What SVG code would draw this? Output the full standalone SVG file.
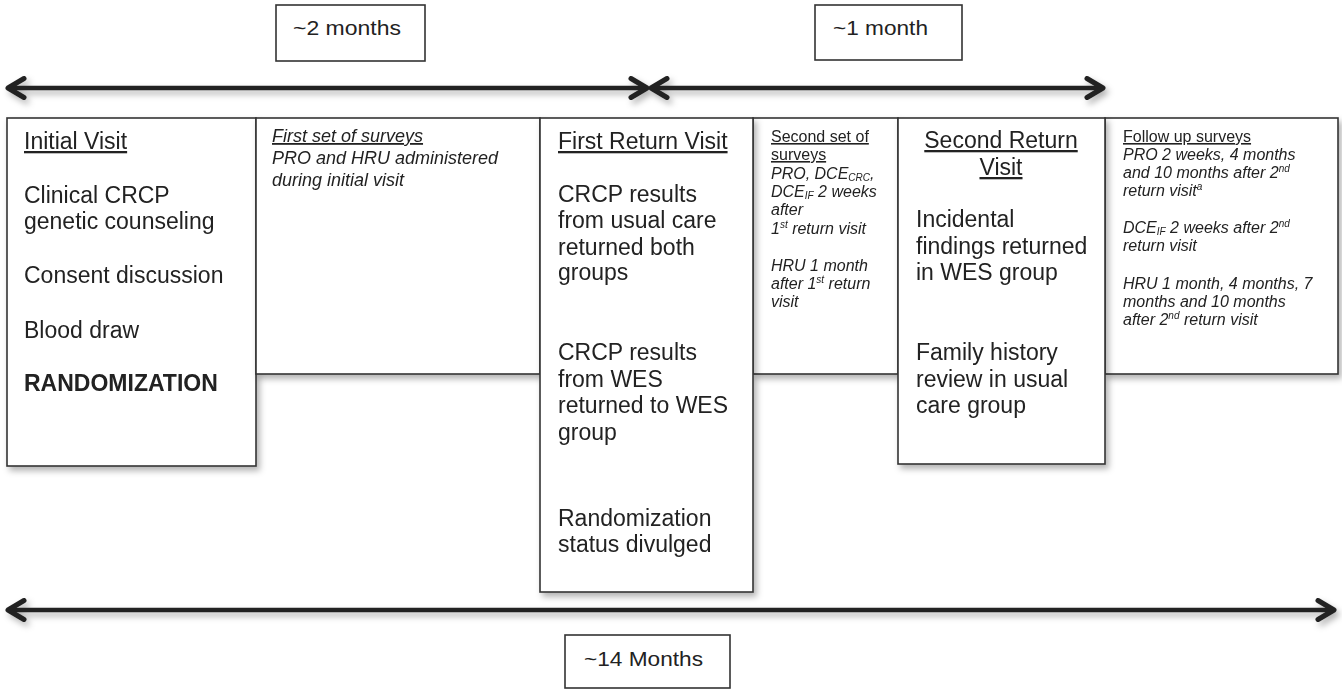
<svg xmlns="http://www.w3.org/2000/svg" width="1342" height="690" viewBox="0 0 1342 690">
<defs>
<style>
text{font-family:"Liberation Sans",Arial,sans-serif;fill:#222}
.big{font-size:23px}
.med{font-size:18px;font-style:italic}
.sm{font-size:16px;font-style:italic}
.u{text-decoration:underline}
.n{font-style:normal}
.box{fill:#fff;stroke:#333;stroke-width:1.6}
.arr{stroke:#222;stroke-width:4.5;fill:none}
.sub{font-size:10px}
.sup{font-size:10px}
</style>
<filter id="sh" filterUnits="userSpaceOnUse" x="0" y="0" width="1342" height="690">
<feDropShadow dx="3" dy="4" stdDeviation="3" flood-color="#000" flood-opacity="0.3"/>
</filter>
<marker id="ah" viewBox="0 0 22 24" refX="19" refY="12" markerWidth="22" markerHeight="24" markerUnits="userSpaceOnUse" orient="auto-start-reverse">
<path d="M3,2.5 L19,12 L3,21.5" fill="none" stroke="#222" stroke-width="5" stroke-linecap="round" stroke-linejoin="round"/>
</marker>
</defs>
<rect width="1342" height="690" fill="#fff"/>

<g id="connectors" filter="url(#sh)">
<line class="arr" x1="8" y1="88" x2="647" y2="88" marker-start="url(#ah)" marker-end="url(#ah)"/>
<line class="arr" x1="651" y1="88" x2="1103" y2="88" marker-start="url(#ah)" marker-end="url(#ah)"/>
<line class="arr" x1="8" y1="610" x2="1334" y2="610" marker-start="url(#ah)" marker-end="url(#ah)"/>
</g>

<g id="label-2months">
<rect class="box" x="276" y="5" width="149" height="56"/>
<text x="293" y="35" font-size="21" textLength="108" lengthAdjust="spacingAndGlyphs">~2 months</text>
</g>
<g id="label-1month">
<rect class="box" x="815" y="5" width="147" height="55"/>
<text x="833" y="35" font-size="21" textLength="95" lengthAdjust="spacingAndGlyphs">~1 month</text>
</g>
<g id="label-14months">
<rect class="box" x="565" y="635" width="165" height="53"/>
<text x="584" y="666" font-size="21" textLength="119" lengthAdjust="spacingAndGlyphs">~14 Months</text>
</g>

<g id="initial-visit" filter="url(#sh)">
<rect class="box" x="7" y="118" width="249" height="348"/>
<text class="big u" x="24" y="149">Initial Visit</text>
<text class="big" x="24" y="203">Clinical CRCP</text>
<text class="big" x="24" y="229">genetic counseling</text>
<text class="big" x="24" y="283">Consent discussion</text>
<text class="big" x="24" y="338">Blood draw</text>
<text class="big" x="24" y="391" font-weight="bold">RANDOMIZATION</text>
</g>

<g id="first-surveys" filter="url(#sh)">
<rect class="box" x="256" y="118" width="284" height="256"/>
<text class="med u" x="272" y="142">First set of surveys</text>
<text class="med" x="272" y="164">PRO and HRU administered</text>
<text class="med" x="272" y="186">during initial visit</text>
</g>

<g id="second-surveys" filter="url(#sh)">
<rect class="box" x="753" y="118" width="145" height="256"/>
<text class="sm u n" x="771" y="142">Second set of</text>
<text class="sm u n" x="771" y="160">surveys</text>
<text class="sm" x="771" y="179">PRO, DCE<tspan class="sub" dy="2">CRC</tspan><tspan dy="-2">,</tspan></text>
<text class="sm" x="771" y="197">DCE<tspan class="sub" dy="2">IF</tspan><tspan dy="-2"> 2 weeks</tspan></text>
<text class="sm" x="771" y="215">after</text>
<text class="sm" x="771" y="234">1<tspan class="sup" dy="-6">st</tspan><tspan dy="6"> return visit</tspan></text>
<text class="sm" x="771" y="271">HRU 1 month</text>
<text class="sm" x="771" y="289">after 1<tspan class="sup" dy="-6">st</tspan><tspan dy="6"> return</tspan></text>
<text class="sm" x="771" y="307">visit</text>
</g>

<g id="first-return-visit" filter="url(#sh)">
<rect class="box" x="540" y="118" width="213" height="474"/>
<text class="big u" x="558" y="149">First Return Visit</text>
<text class="big" x="558" y="202">CRCP results</text>
<text class="big" x="558" y="228">from usual care</text>
<text class="big" x="558" y="255">returned both</text>
<text class="big" x="558" y="280">groups</text>
<text class="big" x="558" y="360">CRCP results</text>
<text class="big" x="558" y="387">from WES</text>
<text class="big" x="558" y="413">returned to WES</text>
<text class="big" x="558" y="440">group</text>
<text class="big" x="558" y="526">Randomization</text>
<text class="big" x="558" y="552">status divulged</text>
</g>

<g id="follow-up-surveys" filter="url(#sh)">
<rect class="box" x="1105" y="118" width="233" height="256"/>
<text class="sm u n" x="1123" y="142">Follow up surveys</text>
<text class="sm" x="1123" y="160">PRO 2 weeks, 4 months</text>
<text class="sm" x="1123" y="178">and 10 months after 2<tspan class="sup" dy="-6">nd</tspan></text>
<text class="sm" x="1123" y="196">return visit<tspan class="sup" dy="-6">a</tspan></text>
<text class="sm" x="1123" y="233">DCE<tspan class="sub" dy="2">IF</tspan><tspan dy="-2"> 2 weeks after 2</tspan><tspan class="sup" dy="-6">nd</tspan></text>
<text class="sm" x="1123" y="251">return visit</text>
<text class="sm" x="1123" y="289">HRU 1 month, 4 months, 7</text>
<text class="sm" x="1123" y="307">months and 10 months</text>
<text class="sm" x="1123" y="325">after 2<tspan class="sup" dy="-6">nd</tspan><tspan dy="6"> return visit</tspan></text>
</g>

<g id="second-return-visit" filter="url(#sh)">
<rect class="box" x="898" y="118" width="207" height="346"/>
<text class="big u" x="1001" y="148" text-anchor="middle">Second Return</text>
<text class="big u" x="1001" y="175" text-anchor="middle">Visit</text>
<text class="big" x="916" y="227">Incidental</text>
<text class="big" x="916" y="254">findings returned</text>
<text class="big" x="916" y="280">in WES group</text>
<text class="big" x="916" y="360">Family history</text>
<text class="big" x="916" y="387">review in usual</text>
<text class="big" x="916" y="413">care group</text>
</g>
</svg>
